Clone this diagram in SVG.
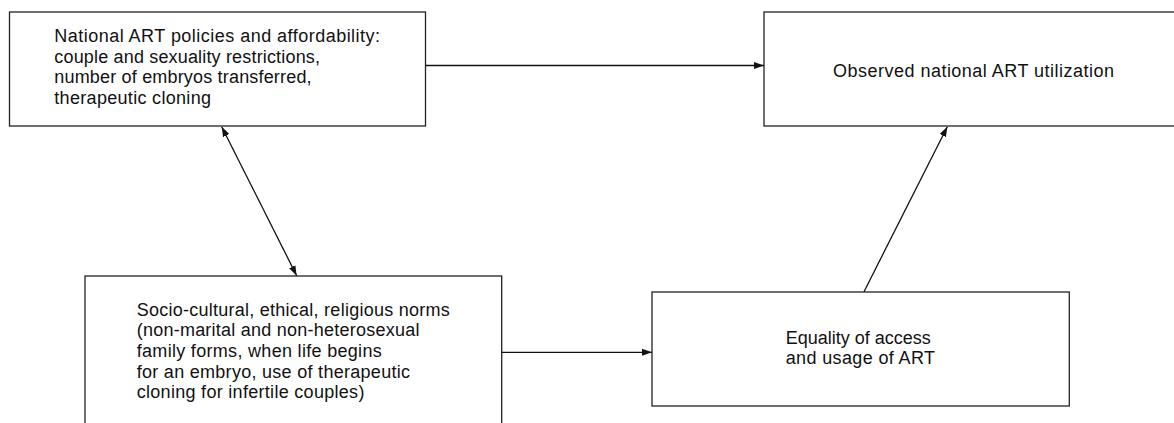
<svg xmlns="http://www.w3.org/2000/svg" width="1174" height="423" viewBox="0 0 1174 423">
<style>
.box{fill:#fff;stroke:#222;stroke-width:1.3}
.t{font-family:"Liberation Sans",Arial,sans-serif;font-size:18px;fill:#111}
.c{stroke:#111;stroke-width:1.3;fill:none}
</style>
<defs>
<marker id="ah" viewBox="0 0 10 10" refX="10" refY="5" markerWidth="10" markerHeight="10" markerUnits="userSpaceOnUse" orient="auto-start-reverse">
<path d="M0,1.5 L10,5 L0,8.5 Z" fill="#111"/>
</marker>
</defs>
<rect width="1174" height="423" fill="#fff"/>
<g id="node-policies">
<rect class="box" x="9.5" y="12" width="416" height="114"/>
<text class="t"><tspan x="54.3" y="42.3" textLength="325.7" lengthAdjust="spacing">National ART policies and affordability:</tspan><tspan x="54.3" y="62.6" textLength="265.7" lengthAdjust="spacing">couple and sexuality restrictions,</tspan><tspan x="54.3" y="83.2" textLength="257.3" lengthAdjust="spacing">number of embryos transferred,</tspan><tspan x="54.3" y="103.6" textLength="156.7" lengthAdjust="spacing">therapeutic cloning</tspan></text>
</g>
<g id="node-observed">
<rect class="box" x="764" y="12" width="420" height="114"/>
<text class="t" x="833" y="76.5" textLength="281" lengthAdjust="spacing">Observed national ART utilization</text>
</g>
<g id="node-norms">
<rect class="box" x="85" y="276" width="416.7" height="160"/>
<text class="t"><tspan x="136.7" y="315.7" textLength="313" lengthAdjust="spacing">Socio-cultural, ethical, religious norms</tspan><tspan x="136.7" y="336.3" textLength="282.7" lengthAdjust="spacing">(non-marital and non-heterosexual</tspan><tspan x="136.7" y="357" textLength="245" lengthAdjust="spacing">family forms, when life begins</tspan><tspan x="136.7" y="377.6" textLength="273.3" lengthAdjust="spacing">for an embryo, use of therapeutic</tspan><tspan x="136.7" y="398.2" textLength="227.7" lengthAdjust="spacing">cloning for infertile couples)</tspan></text>
</g>
<g id="node-equality">
<rect class="box" x="652" y="292" width="417.3" height="114"/>
<text class="t"><tspan x="785.7" y="344.4" textLength="145" lengthAdjust="spacing">Equality of access</tspan><tspan x="785.7" y="363.6" textLength="149.3" lengthAdjust="spacing">and usage of ART</tspan></text>
</g>
<g id="connectors">
<line class="c" x1="425.5" y1="65.5" x2="764" y2="65.5" marker-end="url(#ah)"/>
<line class="c" x1="501.7" y1="352.3" x2="652" y2="352.3" marker-end="url(#ah)"/>
<line class="c" x1="221.7" y1="126.7" x2="296.7" y2="275.7" marker-start="url(#ah)" marker-end="url(#ah)"/>
<line class="c" x1="864" y1="291.7" x2="947.3" y2="126.7" marker-end="url(#ah)"/>
</g>
</svg>
